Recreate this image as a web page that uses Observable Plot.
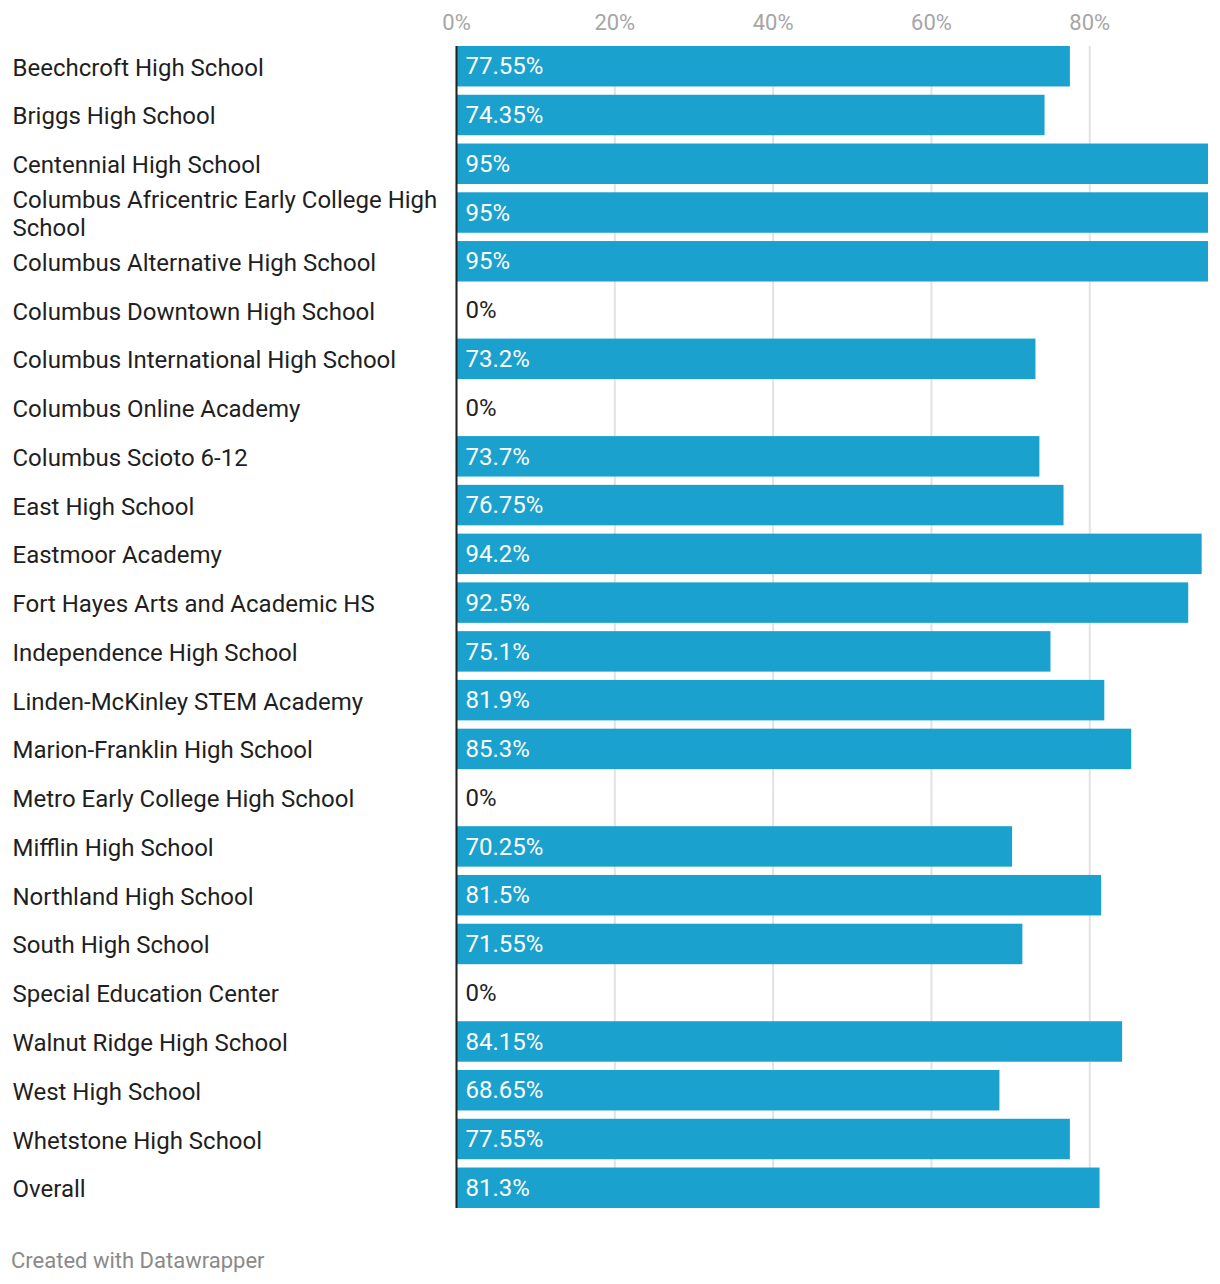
<!DOCTYPE html>
<html>
<head>
<meta charset="utf-8">
<script src="https://cdn.jsdelivr.net/npm/d3@7"></script>
<script src="https://cdn.jsdelivr.net/npm/@observablehq/plot@0.6"></script>
<style>
  html, body { margin: 0; padding: 0; background: #fff; }
  body { width: 1220px; font-family: Roboto, "Noto Sans", sans-serif; }
  #footer { font-family: Roboto, sans-serif; font-size: 22px; color: #8a8a8a; margin: 28px 0 0 11px; line-height: 1; }
</style>
</head>
<body>
<div id="chart"></div>
<div id="footer">Created with Datawrapper</div>
<script>
const schools = [
  "Beechcroft High School",
  "Briggs High School",
  "Centennial High School",
  "Columbus Africentric Early College High School",
  "Columbus Alternative High School",
  "Columbus Downtown High School",
  "Columbus International High School",
  "Columbus Online Academy",
  "Columbus Scioto 6-12",
  "East High School",
  "Eastmoor Academy",
  "Fort Hayes Arts and Academic HS",
  "Independence High School",
  "Linden-McKinley STEM Academy",
  "Marion-Franklin High School",
  "Metro Early College High School",
  "Mifflin High School",
  "Northland High School",
  "South High School",
  "Special Education Center",
  "Walnut Ridge High School",
  "West High School",
  "Whetstone High School",
  "Overall"
];
const rates = [77.55, 74.35, 95, 95, 95, 0, 73.2, 0, 73.7, 76.75, 94.2, 92.5, 75.1, 81.9, 85.3, 0, 70.25, 81.5, 71.55, 0, 84.15, 68.65, 77.55, 81.3];
const xTicks = [0, 20, 40, 60, 80];

const data = schools.map((s, i) => ({school: s, rate: rates[i]}));
const fmt = v => `${v}%`;

const chart = Plot.plot({
  width: 1220,
  height: 1222,
  marginLeft: 456,
  marginRight: 12,
  marginTop: 46,
  marginBottom: 14,
  style: {fontFamily: "Roboto, sans-serif", background: "#fff"},
  x: {domain: [0, 95], axis: null},
  y: {domain: schools, axis: null, paddingInner: 0.17, paddingOuter: 0, round: false},
  marks: [
    Plot.gridX(xTicks, {stroke: "#e2e2e2", strokeOpacity: 1, strokeWidth: 2}),
    Plot.axisX(xTicks, {anchor: "top", tickSize: 0, tickPadding: 17, tickFormat: fmt, fontSize: 22, fill: "#a6a6a6", label: null}),
    Plot.barX(data, {x: "rate", y: "school", fill: "#1ba1cd"}),
    Plot.ruleX([0], {stroke: "#222", strokeWidth: 2}),
    Plot.text(data, {
      x: 0, y: "school", text: d => fmt(d.rate), textAnchor: "start", dx: 9,
      fontSize: 24, fill: d => d.rate > 0 ? "#ffffff" : "#222222"
    }),
    Plot.text(data, {
      y: "school", text: "school", frameAnchor: "left", textAnchor: "start", dx: -444,
      fontSize: 24, fill: "#1f1f1f", lineWidth: 20.5, lineHeight: 1.17
    })
  ]
});
document.getElementById("chart").appendChild(chart);
</script>
</body>
</html>
